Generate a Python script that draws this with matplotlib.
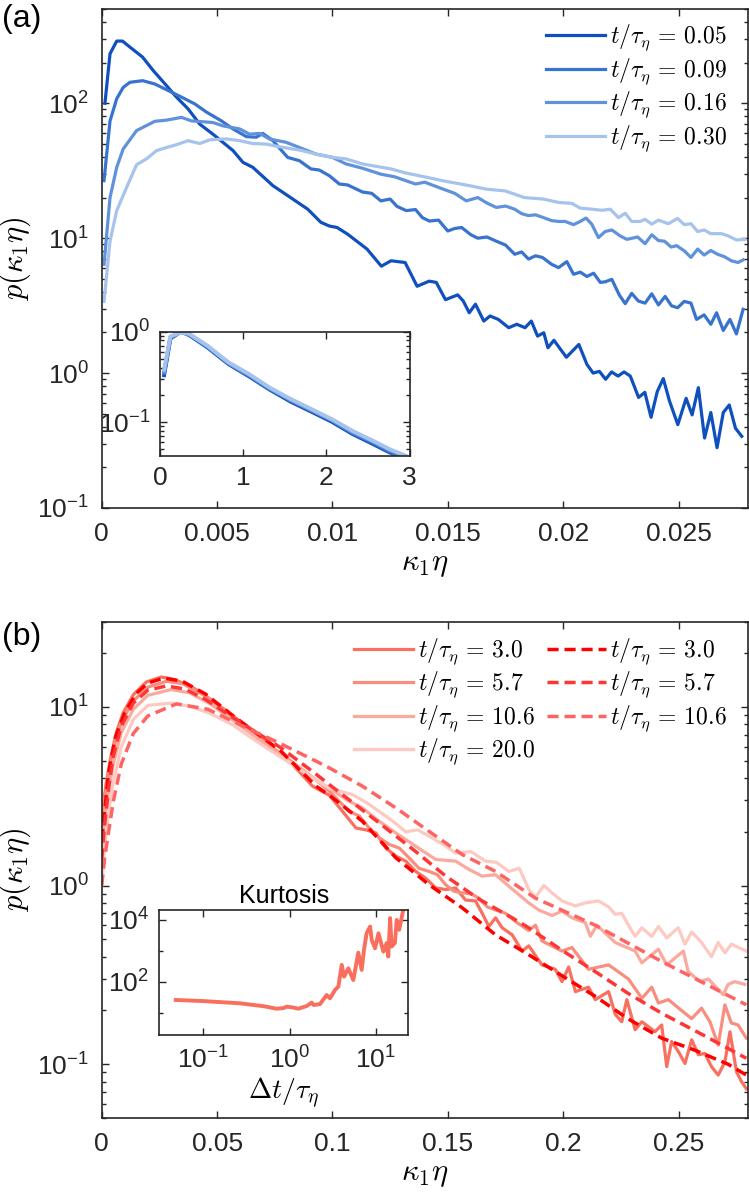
import matplotlib
matplotlib.use('Agg')
import matplotlib.pyplot as plt
from matplotlib.ticker import (LogLocator, NullFormatter, NullLocator,
                               FixedLocator, MultipleLocator, FuncFormatter)

plt.rcParams['font.family'] = ['Liberation Sans', 'DejaVu Sans']
plt.rcParams['mathtext.fontset'] = 'cm'
plt.rcParams['axes.unicode_minus'] = False

INK = '#262626'

# ---------------- panel (a): short times ----------------
a_labels = ['0.05', '0.09', '0.16', '0.30']
a_colors = ['#1050BE', '#3873CD', '#6092DC', '#A6C3EB']

a1_x = [0.00014, 0.00036, 0.00065, 0.0009, 0.00122, 0.00177, 0.00223, 0.00281, 0.00324, 0.00374,
        0.00425, 0.00482, 0.00569, 0.00612, 0.00655, 0.00742, 0.00828, 0.00893, 0.0095, 0.00987,
        0.0102, 0.01066, 0.0115, 0.01212, 0.01254, 0.01315, 0.01367, 0.01419, 0.0145, 0.0149,
        0.01543, 0.01567, 0.01593, 0.0162, 0.01656, 0.01683, 0.01719, 0.01764, 0.01799, 0.01835,
        0.01862, 0.01889, 0.01916, 0.01934, 0.0196, 0.02014, 0.02068, 0.02103, 0.0213, 0.02157,
        0.02184, 0.0221, 0.02238, 0.02264, 0.02291, 0.02327, 0.02354, 0.02381, 0.02408, 0.02434,
        0.02461, 0.02497, 0.02533, 0.02559, 0.02586, 0.02613, 0.0264, 0.02667, 0.02694, 0.0272,
        0.02747, 0.02774]
a1_y = [100, 233, 289, 289, 261, 220, 175, 135, 111, 91,
        70, 59, 44.6, 36.5, 33.5, 24.5, 19.5, 16.4, 13.1, 12.3,
        12.0, 10.7, 8.3, 6.2, 6.8, 6.6, 4.4, 4.8, 4.7, 3.5,
        3.8, 3.42, 2.8, 3.24, 2.43, 2.65, 2.5, 2.17, 2.3, 2.17,
        2.43, 1.88, 1.99, 1.54, 1.75, 1.31, 1.63, 1.16, 1.0, 1.03,
        0.9, 1.02, 0.95, 1.02, 0.95, 0.66, 0.72, 0.47, 0.73, 0.91,
        0.62, 0.415, 0.65, 0.49, 0.78, 0.33, 0.51, 0.28, 0.51, 0.58,
        0.39, 0.34]

a2_x = [0.0001, 0.00036, 0.00065, 0.00093, 0.00122, 0.00177, 0.0023, 0.00281, 0.00346, 0.00403,
        0.00454, 0.00519, 0.00569, 0.00627, 0.0067, 0.00698, 0.00742, 0.00806, 0.00857, 0.00907,
        0.00943, 0.00987, 0.0103, 0.01066, 0.0113, 0.0117, 0.0121, 0.0125, 0.0128, 0.0132,
        0.0136, 0.0139, 0.0142, 0.0146, 0.015, 0.0153, 0.0156, 0.016, 0.0163, 0.0167,
        0.0171, 0.0175, 0.0179, 0.0182, 0.0185, 0.0188, 0.0191, 0.0195, 0.0198, 0.02016,
        0.02045, 0.02074, 0.02103, 0.02132, 0.02161, 0.02182, 0.02211, 0.02243, 0.02269, 0.02297,
        0.02326, 0.02355, 0.02384, 0.02413, 0.02442, 0.0247, 0.02496, 0.02525, 0.02554, 0.02578,
        0.02611, 0.0264, 0.02665, 0.02694, 0.02723, 0.02751, 0.0278]
a2_y = [26.7, 74, 108, 131, 143, 147, 139, 126, 111, 99,
        86, 74, 64.5, 56.6, 56, 59.8, 52.8, 39.7, 37.5, 32.6,
        32, 29, 25.2, 24.8, 22, 21.5, 18.9, 19.5, 17.2, 16,
        16.3, 14.2, 13.4, 13.6, 11.3, 11.8, 12, 10.6, 10, 10.2,
        9.5, 8.9, 7.6, 7.9, 7.0, 7.4, 7.2, 6.4, 6.05, 6.7,
        5.4, 5.6, 5.2, 5.5, 4.7, 4.75, 4.95, 3.8, 3.27, 3.9,
        3.42, 3.3, 3.87, 3.2, 3.7, 3.15, 3.05, 3.4, 3.3, 2.5,
        2.7, 2.3, 2.8, 2.07, 2.5, 1.95, 2.97]

a3_x = [0.0001, 0.00036, 0.00065, 0.00093, 0.00151, 0.0023, 0.00281, 0.00346, 0.00389, 0.00482,
        0.00525, 0.00598, 0.00641, 0.00684, 0.00727, 0.008, 0.00857, 0.00929, 0.01, 0.01059,
        0.0113, 0.0121, 0.0127, 0.0132, 0.0136, 0.014, 0.0144, 0.0148, 0.0153, 0.0158,
        0.0163, 0.0167, 0.0171, 0.0175, 0.0179, 0.0182, 0.0185, 0.0188, 0.0191, 0.0195,
        0.0198, 0.02009, 0.02045, 0.02074, 0.02099, 0.02124, 0.02153, 0.02182, 0.02211, 0.02247,
        0.02276, 0.02323, 0.02355, 0.02384, 0.02413, 0.02439, 0.02468, 0.02492, 0.02525, 0.02554,
        0.02583, 0.02611, 0.0264, 0.02669, 0.02698, 0.02729, 0.02758, 0.0278]
a3_y = [6.4, 20, 33.5, 45.8, 62.7, 73.5, 75, 78.6, 74, 72,
        68, 64.5, 59, 59.8, 54.4, 51.3, 47, 42, 39.7, 35.5,
        33, 29.8, 28.5, 26.6, 25.2, 26, 24.5, 23.1, 21.5, 18.9,
        20, 18.2, 16.9, 17.3, 16.4, 15.2, 14.7, 14.9, 14.3, 13.5,
        13.3, 13.3, 12.6, 13.3, 14.1, 12.7, 10.1, 11.2, 11.5, 10.4,
        9.8, 10.2, 9.1, 10.6, 9.6, 9.5, 8.6, 8.8, 8.05, 7.2,
        8.3, 7.5, 8.1, 7.6, 7.3, 6.8, 6.6, 6.9]

a4_x = [0.0001, 0.00036, 0.00065, 0.00108, 0.00151, 0.00194, 0.00238, 0.00281, 0.00324, 0.00374,
        0.00425, 0.00468, 0.0054, 0.00598, 0.00655, 0.00713, 0.0077, 0.00857, 0.00929, 0.01,
        0.01059, 0.0113, 0.01254, 0.01315, 0.01377, 0.01481, 0.01594, 0.01666, 0.01749, 0.01832,
        0.01914, 0.0198, 0.02038, 0.02074, 0.02124, 0.02168, 0.02204, 0.0224, 0.02269, 0.02297,
        0.02334, 0.02355, 0.02384, 0.02413, 0.02456, 0.02496, 0.02525, 0.02554, 0.02583, 0.02611,
        0.0264, 0.02686, 0.02715, 0.02751, 0.02787]
a4_y = [3.4, 9.5, 16, 23.8, 35, 38.7, 44.6, 47, 49.3, 52.8,
        50.3, 53.6, 54.4, 52.8, 50.3, 49.8, 47.6, 45, 42, 39.7,
        38.7, 35.5, 32.6, 30.5, 29, 26.6, 24.5, 23.1, 22.4, 20,
        19.5, 18.4, 18.1, 16.7, 16.4, 16.1, 16.4, 14.2, 15.3, 13.3,
        13.3, 13.8, 12.7, 13.6, 12.8, 14.0, 12.6, 12.8, 11.2, 11.5,
        10.8, 10.8, 10.4, 9.7, 9.8]

# inset (a): rescaled curves
ia_x = [0.05, 0.125, 0.25, 0.35, 0.57, 0.82, 1.07, 1.32, 1.57, 1.82, 2.07, 2.31, 2.56, 2.76, 2.96]
ia1_y = [0.33, 0.84, 1.0, 0.92, 0.67, 0.44, 0.32, 0.228, 0.168, 0.13, 0.1, 0.074, 0.057, 0.046, 0.039]
ia2_y = [0.35, 0.86, 1.0, 0.93, 0.68, 0.45, 0.33, 0.233, 0.173, 0.134, 0.103, 0.076, 0.059, 0.047, 0.040]
ia3_y = [0.36, 0.87, 0.99, 0.94, 0.69, 0.45, 0.33, 0.236, 0.176, 0.136, 0.105, 0.078, 0.061, 0.049, 0.041]
ia4_y = [0.38, 0.89, 0.98, 0.95, 0.70, 0.46, 0.34, 0.240, 0.180, 0.139, 0.107, 0.080, 0.062, 0.050, 0.042]

# ---------------- panel (b): long times ----------------
b_solid_labels = ['3.0', '5.7', '10.6', '20.0']
b_solid_colors = ['#F8705F', '#F98E7F', '#FBA99D', '#FDC9C1']
b_dash_labels = ['3.0', '5.7', '10.6']
b_dash_colors = ['#FF0000', '#FF3636', '#FF6464']

bs1_x = [0, 0.002, 0.004, 0.0065, 0.0093, 0.0137, 0.0194, 0.0259, 0.0317, 0.0396,
         0.0482, 0.0569, 0.0655, 0.0742, 0.0828, 0.0914, 0.0987, 0.1044, 0.1102, 0.1145,
         0.1188, 0.1232, 0.1275, 0.1318, 0.1361, 0.1404, 0.1448, 0.1491, 0.1534, 0.1577,
         0.162, 0.1649, 0.1678, 0.1707, 0.1736, 0.1779, 0.1822, 0.1851, 0.1908, 0.1966,
         0.1995, 0.2024, 0.2053, 0.211, 0.2139, 0.2197, 0.2226, 0.2254, 0.2276, 0.2312,
         0.2341, 0.2398, 0.2427, 0.2449, 0.247, 0.2499, 0.2528, 0.2557, 0.2586, 0.2614,
         0.2643, 0.2672, 0.2701, 0.2723, 0.2751, 0.2773, 0.2794]
bs1_y = [2.4, 3.8, 5.3, 7.3, 9.25, 11.7, 13.8, 14.7, 14.2, 12.8,
         10.8, 8.9, 7.3, 5.9, 4.75, 3.6, 3.2, 2.6, 2.1, 2.05,
         1.97, 1.62, 1.46, 1.37, 1.2, 1.1, 0.97, 0.95, 0.97, 0.83,
         0.82, 0.7, 0.59, 0.66, 0.58, 0.53, 0.43, 0.46, 0.36, 0.34,
         0.29, 0.35, 0.255, 0.27, 0.23, 0.255, 0.19, 0.173, 0.23, 0.156,
         0.173, 0.152, 0.166, 0.097, 0.134, 0.118, 0.101, 0.137, 0.113, 0.115,
         0.097, 0.087, 0.103, 0.152, 0.091, 0.08, 0.073]

bs2_x = [0, 0.0013, 0.003, 0.005, 0.0085, 0.0137, 0.02, 0.028, 0.035, 0.045,
         0.057, 0.068, 0.08, 0.0929, 0.0987, 0.1073, 0.1117, 0.1159, 0.1203, 0.1246,
         0.129, 0.1332, 0.1375, 0.1419, 0.1455, 0.1491, 0.1527, 0.1563, 0.16, 0.1635,
         0.1671, 0.1707, 0.175, 0.1793, 0.1851, 0.188, 0.1908, 0.1995, 0.2038, 0.211,
         0.2197, 0.2283, 0.2341, 0.2384, 0.2413, 0.2456, 0.2513, 0.2557, 0.26, 0.2636,
         0.2672, 0.2701, 0.2729, 0.2758, 0.2794]
bs2_y = [2.0, 3.0, 4.3, 5.8, 8.2, 10.8, 12.9, 13.9, 13.5, 11.5,
         8.7, 6.7, 5.2, 3.9, 3.37, 2.6, 2.45, 2.1, 1.85, 1.7,
         1.62, 1.43, 1.25, 1.2, 1.15, 1.01, 0.93, 0.91, 0.9, 0.85,
         0.76, 0.73, 0.7, 0.63, 0.56, 0.6, 0.49, 0.43, 0.45, 0.34,
         0.36, 0.3, 0.234, 0.27, 0.22, 0.23, 0.2, 0.18, 0.206, 0.173,
         0.128, 0.215, 0.17, 0.166, 0.14]

bs3_x = [0, 0.0013, 0.003, 0.005, 0.0085, 0.0137, 0.02, 0.03, 0.038, 0.047,
         0.057, 0.068, 0.08, 0.0929, 0.0987, 0.1073, 0.113, 0.1203, 0.1275, 0.1361,
         0.1448, 0.1534, 0.1592, 0.1649, 0.1707, 0.1765, 0.1851, 0.1894, 0.1952, 0.1995,
         0.2038, 0.2096, 0.2118, 0.2146, 0.2226, 0.2312, 0.2341, 0.2413, 0.2449, 0.2521,
         0.2542, 0.2593, 0.2629, 0.2694, 0.2715, 0.2744, 0.2787]
bs3_y = [1.5, 2.3, 3.4, 4.8, 7.2, 9.7, 11.6, 12.5, 12.0, 10.4,
         8.4, 6.6, 5.1, 3.9, 3.5, 2.96, 2.72, 2.29, 1.97, 1.66,
         1.4, 1.37, 1.23, 1.13, 1.15, 0.99, 0.8, 0.73, 0.68, 0.72,
         0.66, 0.62, 0.52, 0.6, 0.48, 0.43, 0.37, 0.44, 0.36, 0.43,
         0.33, 0.29, 0.3, 0.245, 0.28, 0.29, 0.28]

bs4_x = [0, 0.0013, 0.003, 0.005, 0.0085, 0.0137, 0.02, 0.03, 0.038, 0.047,
         0.057, 0.068, 0.08, 0.0929, 0.0987, 0.1087, 0.115, 0.1203, 0.126, 0.1318,
         0.137, 0.1419, 0.148, 0.1534, 0.16, 0.1664, 0.171, 0.1765, 0.181, 0.1851,
         0.188, 0.1916, 0.1952, 0.1995, 0.2053, 0.2096, 0.2153, 0.2197, 0.2226, 0.2254,
         0.2283, 0.2312, 0.2341, 0.2384, 0.2413, 0.2449, 0.2499, 0.2528, 0.2557, 0.26,
         0.2643, 0.2672, 0.2701, 0.2729, 0.2794]
bs4_y = [1.0, 1.62, 2.6, 3.8, 6.0, 8.5, 10.2, 10.5, 10.1, 9.2,
         7.9, 6.3, 5.0, 3.9, 3.5, 3.23, 2.9, 2.6, 2.3, 2.0,
         2.05, 1.89, 1.7, 1.52, 1.55, 1.37, 1.35, 1.2, 1.25, 0.95,
         0.86, 1.0, 0.91, 0.82, 0.77, 0.8, 0.82, 0.76, 0.69, 0.7,
         0.6, 0.52, 0.58, 0.52, 0.59, 0.51, 0.58, 0.47, 0.55, 0.48,
         0.4, 0.48, 0.42, 0.47, 0.43]

bd1_x = [0, 0.003, 0.006, 0.01, 0.015, 0.02, 0.027, 0.035, 0.045, 0.057,
         0.0777, 0.0929, 0.0987, 0.113, 0.1275, 0.1419, 0.1563, 0.1707, 0.1851, 0.2,
         0.2139, 0.228, 0.2427, 0.257, 0.2715, 0.2794]
bd1_y = [1.8, 4.3, 6.8, 9.3, 11.9, 13.6, 14.5, 13.9, 11.8, 8.9,
         5.65, 3.6, 3.2, 2.29, 1.43, 1.01, 0.75, 0.53, 0.41, 0.31,
         0.24, 0.18, 0.14, 0.12, 0.1, 0.087]

bd2_x = [0, 0.0013, 0.003, 0.005, 0.0085, 0.0137, 0.02, 0.028, 0.036, 0.045,
         0.0569, 0.0777, 0.0929, 0.0987, 0.1203, 0.1361, 0.1491, 0.1635, 0.1779, 0.1851,
         0.2, 0.2139, 0.228, 0.2427, 0.261, 0.2794]
bd2_y = [1.4, 2.2, 3.5, 5.3, 7.8, 10.5, 12.4, 13.1, 12.6, 11.0,
         8.7, 5.9, 4.2, 3.67, 2.24, 1.55, 1.13, 0.84, 0.66, 0.58,
         0.43, 0.33, 0.25, 0.193, 0.145, 0.108]

bd3_x = [0, 0.0013, 0.003, 0.005, 0.0085, 0.0137, 0.02, 0.0324, 0.046, 0.0612,
         0.0756, 0.0929, 0.0987, 0.113, 0.1275, 0.1419, 0.1563, 0.1707, 0.188, 0.2139,
         0.2427, 0.2794]
bd3_y = [1.0, 1.43, 2.0, 2.95, 4.8, 7.1, 8.9, 10.4, 9.7, 7.8,
         6.4, 4.97, 4.55, 3.6, 2.72, 2.01, 1.49, 1.2, 0.85, 0.6,
         0.376, 0.215]

# inset (b): kurtosis against time lag
kurt_dt = [0.048, 0.1, 0.266, 0.5, 0.708, 0.85, 0.925, 1.1, 1.26, 1.58,
           1.8, 1.9, 2.25, 2.69, 2.94, 3.36, 3.67, 4.02, 4.27, 4.79,
           5.47, 6.25, 6.84, 7.27, 7.8, 8.55, 8.94, 9.77, 10.7, 12.2,
           13.3, 13.9, 14.6, 15.2, 16.6, 17.4, 18.6, 20.7]
kurt_val = [25.5, 23.5, 19.9, 16, 13.3, 14, 15.5, 14.5, 13.3, 16.2,
            21, 17.5, 18.8, 37, 28.8, 54, 69, 350, 145, 270,
            113, 870, 240, 1070, 3700, 6100, 2240, 1200, 3700, 940,
            1780, 650, 11500, 1370, 1800, 10000, 4800, 21000]


def style(ax, size):
    for s in ax.spines.values():
        s.set_linewidth(1.2)
        s.set_color(INK)
    ax.tick_params(which='both', direction='in', top=True, right=True,
                   colors=INK, labelsize=size, width=1.0)
    ax.tick_params(which='major', length=5)
    ax.tick_params(which='minor', length=2.8)


def log_minor(ax):
    ax.yaxis.set_minor_locator(LogLocator(base=10, subs=range(2, 10), numticks=20))
    ax.yaxis.set_minor_formatter(NullFormatter())


def tlabel(v):
    return r'$t/\tau_\eta\,=\,%s$' % v


plain = FuncFormatter(lambda v, p: '%g' % v)

fig = plt.figure(figsize=(7.49, 11.95), dpi=100)

# ---------- (a) ----------
ax = fig.add_axes([0.1358, 0.5749, 0.8625, 0.4176])
for xs, ys, c, lab in zip([a1_x, a2_x, a3_x, a4_x], [a1_y, a2_y, a3_y, a4_y], a_colors, a_labels):
    ax.plot(xs, ys, color=c, lw=2.3, label=tlabel(lab))
ax.set_yscale('log')
ax.set_xlim(0, 0.028)
ax.set_ylim(0.1, 500)
ax.xaxis.set_major_locator(MultipleLocator(0.005))
ax.xaxis.set_major_formatter(plain)
log_minor(ax)
style(ax, 19)
ax.tick_params(axis='x', pad=10)
ax.tick_params(axis='y', pad=9)
ax.set_xlabel(r'$\kappa_1\eta$', fontsize=22, labelpad=2)
ax.set_ylabel(r'$p(\kappa_1\eta)$', fontsize=22, labelpad=3)
ax.legend(loc='upper right', bbox_to_anchor=(0.968, 0.972), frameon=False, fontsize=17,
          handlelength=2.5, handletextpad=0.2, labelspacing=0.14, borderaxespad=0, borderpad=0)
fig.text(0.003, 0.997, '(a)', fontsize=23, va='top', ha='left')

ins = fig.add_axes([0.2136, 0.6184, 0.3333, 0.1040])
for ys, c in zip([ia1_y, ia2_y, ia3_y, ia4_y], a_colors):
    ins.plot(ia_x, ys, color=c, lw=2.8)
ins.set_yscale('log')
ins.set_xlim(0, 3)
ins.set_ylim(0.042, 1.0)
ins.xaxis.set_major_locator(FixedLocator([0, 1, 2, 3]))
ins.xaxis.set_major_formatter(plain)
log_minor(ins)
style(ins, 19)
ins.tick_params(axis='x', pad=7)
ins.tick_params(axis='y', pad=7)

# ---------- (b) ----------
bx = fig.add_axes([0.1358, 0.0644, 0.8625, 0.4154])
for xs, ys, c, lab in zip([bs1_x, bs2_x, bs3_x, bs4_x], [bs1_y, bs2_y, bs3_y, bs4_y],
                          b_solid_colors, b_solid_labels):
    bx.plot(xs, ys, color=c, lw=2.3, label=tlabel(lab))
for xs, ys, c, lab in zip([bd1_x, bd2_x, bd3_x], [bd1_y, bd2_y, bd3_y], b_dash_colors, b_dash_labels):
    bx.plot(xs, ys, color=c, lw=2.5, dashes=(3.2, 1.7), label=tlabel(lab))
bx.set_yscale('log')
bx.set_xlim(0, 0.28)
bx.set_ylim(0.05, 30)
bx.xaxis.set_major_locator(MultipleLocator(0.05))
bx.xaxis.set_major_formatter(plain)
log_minor(bx)
style(bx, 19)
bx.tick_params(axis='x', pad=10)
bx.tick_params(axis='y', pad=9)
bx.set_xlabel(r'$\kappa_1\eta$', fontsize=22, labelpad=2)
bx.set_ylabel(r'$p(\kappa_1\eta)$', fontsize=22, labelpad=3)
bx.legend(loc='upper right', bbox_to_anchor=(0.968, 0.970), frameon=False, fontsize=17, ncol=2,
          handlelength=2.5, handletextpad=0.2, labelspacing=0.14, columnspacing=0.5,
          borderaxespad=0, borderpad=0)
fig.text(0.003, 0.4795, '(b)', fontsize=23, va='top', ha='left')

kin = fig.add_axes([0.2123, 0.1339, 0.3328, 0.1046])
kin.plot(kurt_dt, kurt_val, color='#FA6E5E', lw=2.8)
kin.set_xscale('log')
kin.set_yscale('log')
kin.set_xlim(0.0307, 23.7)
kin.set_ylim(1.87, 21000)
kin.xaxis.set_major_locator(FixedLocator([0.1, 1, 10]))
kin.xaxis.set_minor_locator(NullLocator())
kin.yaxis.set_major_locator(FixedLocator([1e2, 1e4]))
kin.yaxis.set_minor_locator(FixedLocator([1e1, 1e3]))
kin.yaxis.set_minor_formatter(NullFormatter())
style(kin, 19)
kin.tick_params(axis='x', pad=8)
kin.tick_params(axis='y', pad=7)
kin.set_xlabel(r'$\Delta t/\tau_\eta$', fontsize=20, labelpad=2)
kin.set_title('Kurtosis', fontsize=18, pad=5)

fig.savefig('out.png', dpi=100)
